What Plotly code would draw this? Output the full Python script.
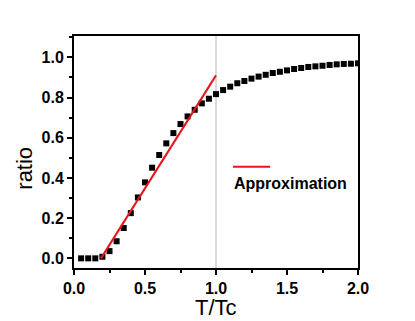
import plotly.graph_objects as go

t_over_tc = [0.05, 0.10, 0.15, 0.20, 0.25, 0.30, 0.35, 0.40, 0.45, 0.50,
             0.55, 0.60, 0.65, 0.70, 0.75, 0.80, 0.85, 0.90, 0.95, 1.00,
             1.05, 1.10, 1.15, 1.20, 1.25, 1.30, 1.35, 1.40, 1.45, 1.50,
             1.55, 1.60, 1.65, 1.70, 1.75, 1.80, 1.85, 1.90, 1.95, 2.00]
ratio = [0.0, 0.0, 0.0, 0.008, 0.036, 0.085, 0.151, 0.225, 0.303, 0.378,
         0.451, 0.514, 0.572, 0.623, 0.668, 0.706, 0.739, 0.771, 0.794, 0.817,
         0.837, 0.854, 0.871, 0.882, 0.894, 0.904, 0.913, 0.922, 0.928, 0.935,
         0.942, 0.947, 0.952, 0.955, 0.958, 0.962, 0.965, 0.967, 0.968, 0.970]
approx_x = [0.19, 1.0]
approx_y = [0.0, 0.91]
x_ticks = [0.0, 0.5, 1.0, 1.5, 2.0]
y_ticks = [0.0, 0.2, 0.4, 0.6, 0.8, 1.0]

FONT = "Arial, Liberation Sans, sans-serif"

# page has an 8px body margin; plot area targeted at x 74..358, y 36..268 in window
PW, PH = 284.0, 232.0

fig = go.Figure()
fig.add_trace(go.Scatter(x=t_over_tc, y=ratio, mode="markers",
                         marker=dict(symbol="square", size=6, color="black"),
                         showlegend=False))
fig.add_trace(go.Scatter(x=approx_x, y=approx_y, mode="lines",
                         line=dict(color="#e8141b", width=2), showlegend=False))

# vertical reference line at T/Tc = 1
fig.add_shape(type="line", xref="x", yref="paper", x0=1.0, x1=1.0, y0=0, y1=1,
              line=dict(color="#b8b8b8", width=1), layer="below")

# legend (line sample above label)
fig.add_shape(type="line", xref="paper", yref="paper",
              x0=(233 - 74) / PW, x1=(270 - 74) / PW,
              y0=(268 - 166.7) / PH, y1=(268 - 166.7) / PH,
              line=dict(color="#e8141b", width=2))
fig.add_annotation(text="<b>Approximation</b>", xref="paper", yref="paper",
                   x=(232 - 74) / PW, y=(268 - 183) / PH,
                   xanchor="left", yanchor="middle", showarrow=False,
                   font=dict(family=FONT, size=16, color="black"))

# axis titles
fig.add_annotation(text="ratio", xref="paper", yref="paper",
                   x=-(74 - 25) / PW, y=(268 - 168.7) / PH,
                   xanchor="center", yanchor="middle", textangle=-90,
                   showarrow=False, font=dict(family=FONT, size=22, color="black"))
fig.add_annotation(text="T/Tc", xref="paper", yref="paper",
                   x=0.5, y=(268 - 307.5) / PH,
                   xanchor="center", yanchor="middle", borderpad=0,
                   showarrow=False, font=dict(family=FONT, size=22, color="black"))

axis_common = dict(showline=True, linecolor="black", linewidth=2, mirror=True,
                   showgrid=False, zeroline=False, ticks="outside", ticklen=5,
                   tickwidth=1.5, tickcolor="black",
                   tickfont=dict(family=FONT, size=16, color="black", weight="bold"))

fig.update_layout(
    width=407, height=313,
    margin=dict(l=66, r=57, t=28, b=53),
    plot_bgcolor="white", paper_bgcolor="white",
    xaxis=dict(range=[0, 2.0], tickvals=x_ticks, ticktext=[f"{v:.1f}" for v in x_ticks],
               minor=dict(dtick=0.25, ticks="outside", ticklen=3, tickcolor="black", tickwidth=1.5),
               **axis_common),
    yaxis=dict(range=[-0.048, 1.106], tickvals=y_ticks, ticktext=[f"{v:.1f}" for v in y_ticks],
               minor=dict(dtick=0.1, ticks="outside", ticklen=3, tickcolor="black", tickwidth=1.5),
               **axis_common),
)

fig.write_html("out.html")
